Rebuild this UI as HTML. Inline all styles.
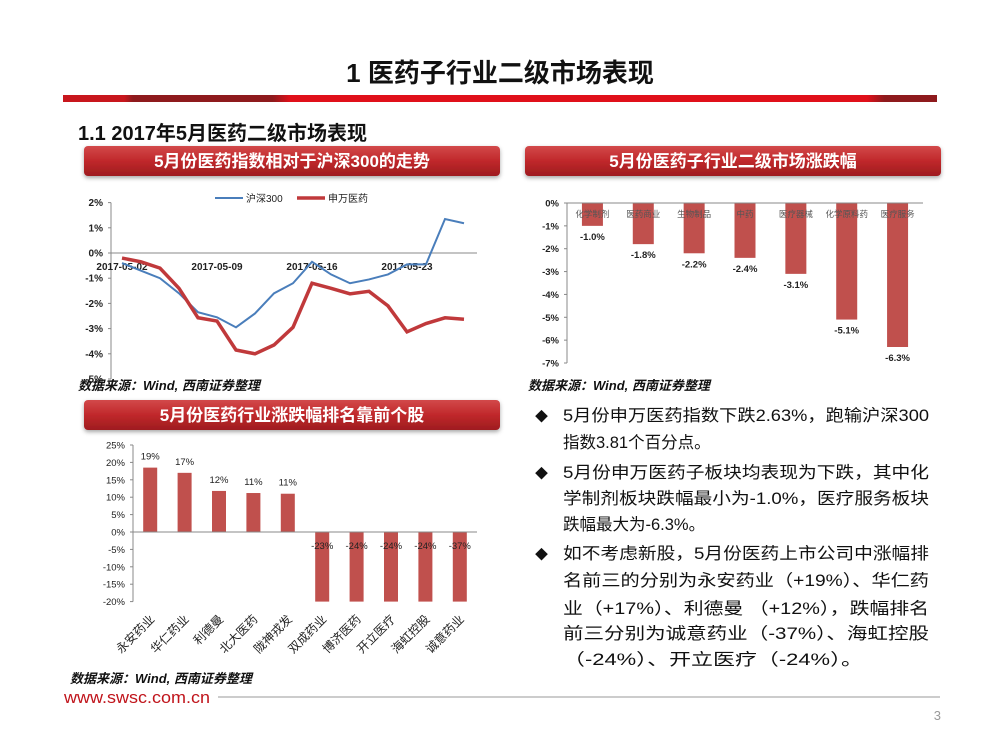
<!DOCTYPE html>
<html><head><meta charset="utf-8"><style>
body{margin:0;width:1000px;height:750px;overflow:hidden;background:#fff}
svg{display:block;font-family:"Liberation Sans","Noto Sans CJK SC",sans-serif}
</style></head><body>
<svg id="page" width="1000" height="750" viewBox="0 0 1000 750">
<defs>
<linearGradient id="hbar" x1="0" x2="1" y1="0" y2="0">
<stop offset="0" stop-color="#c8161d"/><stop offset="0.07" stop-color="#c8161d"/><stop offset="0.08" stop-color="#8e1a1d"/><stop offset="0.24" stop-color="#8e1a1d"/><stop offset="0.26" stop-color="#e0101a"/><stop offset="0.92" stop-color="#e0101a"/><stop offset="0.94" stop-color="#8e1a1d"/><stop offset="1" stop-color="#8e1a1d"/>
</linearGradient>
<linearGradient id="ban" x1="0" x2="0" y1="0" y2="1">
<stop offset="0" stop-color="#d2494a"/><stop offset="0.5" stop-color="#c0282b"/><stop offset="1" stop-color="#9e1c1f"/>
</linearGradient>
<filter id="sh" x="-5%" y="-20%" width="110%" height="160%"><feDropShadow dx="0" dy="2" stdDeviation="2" flood-color="#000" flood-opacity="0.35"/></filter>
</defs>
<text x="500" y="82" text-anchor="middle" font-size="26" font-weight="bold" fill="#111">1 医药子行业二级市场表现</text>
<rect x="63" y="95" width="874" height="7" fill="url(#hbar)"/>
<text x="78" y="140" font-size="20" font-weight="bold" fill="#111">1.1 2017年5月医药二级市场表现</text>

<g>
<rect x="84" y="146" width="416" height="30" rx="4" fill="url(#ban)" filter="url(#sh)"/>
<text x="292" y="167" text-anchor="middle" font-size="17" font-weight="bold" fill="#fff">5月份医药指数相对于沪深300的走势</text></g>
<g>
<rect x="525" y="146" width="416" height="30" rx="4" fill="url(#ban)" filter="url(#sh)"/>
<text x="733" y="167" text-anchor="middle" font-size="17" font-weight="bold" fill="#fff">5月份医药子行业二级市场涨跌幅</text></g>
<g>
<rect x="84" y="400" width="416" height="30" rx="4" fill="url(#ban)" filter="url(#sh)"/>
<text x="292" y="421" text-anchor="middle" font-size="17" font-weight="bold" fill="#fff">5月份医药行业涨跌幅排名靠前个股</text></g>

<g id="c1"></g>
<g id="c2"></g>
<g id="c3"></g>

<text x="78" y="390" font-size="13" font-weight="bold" font-style="italic" fill="#111">数据来源：Wind, 西南证券整理</text>
<text x="528" y="390" font-size="13" font-weight="bold" font-style="italic" fill="#111">数据来源：Wind, 西南证券整理</text>
<text x="70" y="683" font-size="13" font-weight="bold" font-style="italic" fill="#111">数据来源：Wind, 西南证券整理</text>

<g font-size="16.5" fill="#111">
<text x="535" y="421" font-size="13">◆</text>
<text x="563" y="421" textLength="366" lengthAdjust="spacingAndGlyphs">5月份申万医药指数下跌2.63%，跑输沪深300</text>
<text x="563" y="448">指数3.81个百分点。</text>
<text x="535" y="478" font-size="13">◆</text>
<text x="563" y="478" textLength="366" lengthAdjust="spacingAndGlyphs">5月份申万医药子板块均表现为下跌，其中化</text>
<text x="563" y="504" textLength="366" lengthAdjust="spacingAndGlyphs">学制剂板块跌幅最小为-1.0%，医疗服务板块</text>
<text x="563" y="530">跌幅最大为-6.3%。</text>
<text x="535" y="559" font-size="13">◆</text>
<text x="563" y="559" textLength="366" lengthAdjust="spacingAndGlyphs">如不考虑新股，5月份医药上市公司中涨幅排</text>
<text x="563" y="586" textLength="366" lengthAdjust="spacingAndGlyphs">名前三的分别为永安药业（+19%）、华仁药</text>
<text x="563" y="614" textLength="366" lengthAdjust="spacingAndGlyphs">业（+17%）、利德曼 （+12%），跌幅排名</text>
<text x="563" y="639" textLength="366" lengthAdjust="spacingAndGlyphs">前三分别为诚意药业（-37%）、海虹控股</text>
<text x="563" y="665" textLength="300" lengthAdjust="spacingAndGlyphs">（-24%）、开立医疗（-24%）。</text>
</g>

<text x="64" y="703" font-size="17" fill="#c0141b" textLength="146" lengthAdjust="spacingAndGlyphs">www.swsc.com.cn</text>
<line x1="218" y1="697" x2="940" y2="697" stroke="#bbb" stroke-width="1.5"/>
<text x="941" y="720" font-size="13" fill="#999" text-anchor="end">3</text>
</svg>
<script>
// ---- Chart 1 data ----
const c1Dates = ["2017-05-02","2017-05-09","2017-05-16","2017-05-23"];
const c1DateIdx = [0,5,10,15];
const hs300 = [-0.4,-0.7,-1.0,-1.6,-2.35,-2.55,-2.95,-2.4,-1.6,-1.2,-0.35,-0.85,-1.2,-1.05,-0.85,-0.45,-0.45,1.35,1.18];
const swyy = [-0.2,-0.35,-0.6,-1.4,-2.57,-2.7,-3.85,-4.0,-3.65,-2.95,-1.2,-1.4,-1.62,-1.52,-2.1,-3.13,-2.8,-2.57,-2.63];
const c1Ticks = [2,1,0,-1,-2,-3,-4,-5];
// ---- Chart 2 data ----
const c2Cats = ["化学制剂","医药商业","生物制品","中药","医疗器械","化学原料药","医疗服务"];
const c2Vals = [-1.0,-1.8,-2.2,-2.4,-3.1,-5.1,-6.3];
const c2Ticks = [0,-1,-2,-3,-4,-5,-6,-7];
// ---- Chart 3 data ----
const c3Cats = ["永安药业","华仁药业","利德曼","北大医药","陇神戎发","双成药业","博济医药","开立医疗","海虹控股","诚意药业"];
const c3Vals = [18.5,17,11.8,11.2,11,-23,-24,-24,-24,-37];
const c3Ticks = [25,20,15,10,5,0,-5,-10,-15,-20];

const NS="http://www.w3.org/2000/svg";
function mk(parent,tag,attrs,text){const e=document.createElementNS(NS,tag);for(const k in attrs)e.setAttribute(k,attrs[k]);if(text!==undefined)e.textContent=text;parent.appendChild(e);return e;}

// Chart 1
(function(){
const g=document.getElementById('c1');
const x0=122, dx=19, axX=111, axR=477;
const y=v=>253-v*25.2, x=i=>x0+i*dx;
const ax=mk(g,'line',{x1:axX,y1:y(2),x2:axX,y2:y(-5),stroke:'#888'});


c1Ticks.forEach(t=>{
 const tl=mk(g,'text',{x:axX-8,y:y(t)+3.5,'text-anchor':'end','font-size':10,'font-weight':'bold',fill:'#222'},t+'%');
 
 
 mk(g,'line',{x1:axX-3,y1:y(t),x2:axX,y2:y(t),stroke:'#888'});
});
const xa=mk(g,'line',{x1:axX,y1:y(0),x2:axR,y2:y(0),stroke:'#888'});


c1Dates.forEach((d,k)=>{
 const t=mk(g,'text',{x:x(c1DateIdx[k]),y:y(0)+17,'text-anchor':'middle','font-size':10,'font-weight':'bold',fill:'#222'},d);
 
 
});
const p1=mk(g,'polyline',{points:hs300.map((v,i)=>x(i)+','+y(v)).join(' '),fill:'none',stroke:'#4a7ebb','stroke-width':2});


const p2=mk(g,'polyline',{points:swyy.map((v,i)=>x(i)+','+y(v)).join(' '),fill:'none',stroke:'#c0393b','stroke-width':3.5});


const l1=mk(g,'g',{});


mk(l1,'line',{x1:215,y1:198,x2:243,y2:198,stroke:'#4a7ebb','stroke-width':2});
mk(l1,'text',{x:246,y:202,'font-size':10,fill:'#222'},'沪深300');
const l2=mk(g,'g',{});


mk(l2,'line',{x1:297,y1:198,x2:325,y2:198,stroke:'#c0393b','stroke-width':3.5});
mk(l2,'text',{x:328,y:202,'font-size':10,fill:'#222'},'申万医药');
})();

// Chart 2
(function(){
const g=document.getElementById('c2');
const axX=567, axR=923, cw=(axR-axX)/c2Cats.length, bw=21;
const y=v=>203-v*(160/7);
const ax=mk(g,'line',{x1:axX,y1:y(0),x2:axX,y2:y(-7),stroke:'#888'});


c2Ticks.forEach(t=>{
 const tl=mk(g,'text',{x:axX-8,y:y(t)+3.5,'text-anchor':'end','font-size':9.5,'font-weight':'bold',fill:'#222'},t+'%');
 
 
 mk(g,'line',{x1:axX-3,y1:y(t),x2:axX,y2:y(t),stroke:'#888'});
});
c2Vals.forEach((v,i)=>{
 const cx=axX+cw*(i+0.5);
 const b=mk(g,'rect',{x:cx-bw/2,y:y(0),width:bw,height:y(v)-y(0),fill:'#c0504d'});
 
 
 const vl=mk(g,'text',{x:cx,y:y(v)+14,'text-anchor':'middle','font-size':9.5,'font-weight':'bold',fill:'#222'},v.toFixed(1)+'%');
 
 
 const cl=mk(g,'text',{x:cx,y:217,'text-anchor':'middle','font-size':8.5,fill:'#555'},c2Cats[i]);
 
 
});
const xa=mk(g,'line',{x1:axX,y1:y(0),x2:axR,y2:y(0),stroke:'#888'});


})();

// Chart 3
(function(){
const g=document.getElementById('c3');
const axX=133, axR=477, cw=(axR-axX)/c3Cats.length, bw=14;
const y=v=>532-v*(87/25);
const ymin=-20;
const ax=mk(g,'line',{x1:axX,y1:y(25),x2:axX,y2:y(-20),stroke:'#888'});


c3Ticks.forEach(t=>{
 const tl=mk(g,'text',{x:axX-8,y:y(t)+3.5,'text-anchor':'end','font-size':9.5,fill:'#222'},t+'%');
 
 
 mk(g,'line',{x1:axX-3,y1:y(t),x2:axX,y2:y(t),stroke:'#888'});
});
c3Vals.forEach((v,i)=>{
 const cx=axX+cw*(i+0.5);
 const vc=Math.max(v,ymin);
 const top=Math.min(y(0),y(vc)), h=Math.abs(y(vc)-y(0));
 const b=mk(g,'rect',{x:cx-bw/2,y:top,width:bw,height:h,fill:'#c0504d'});
 
 
 const ly = v>=0 ? y(v)-8 : y(0)+17;
 const vl=mk(g,'text',{x:cx,y:ly,'text-anchor':'middle','font-size':9.5,fill:'#222'},Math.round(v)+'%');
 
 
 const ax2=cx+5, ay=620;
 const cl=mk(g,'text',{x:ax2,y:ay,'text-anchor':'end','font-size':12,fill:'#222',transform:'rotate(-45 '+ax2+' '+ay+')'},c3Cats[i]);
 
 
});
const xa=mk(g,'line',{x1:axX,y1:y(0),x2:axR,y2:y(0),stroke:'#888'});


})();
</script>
</body></html>
